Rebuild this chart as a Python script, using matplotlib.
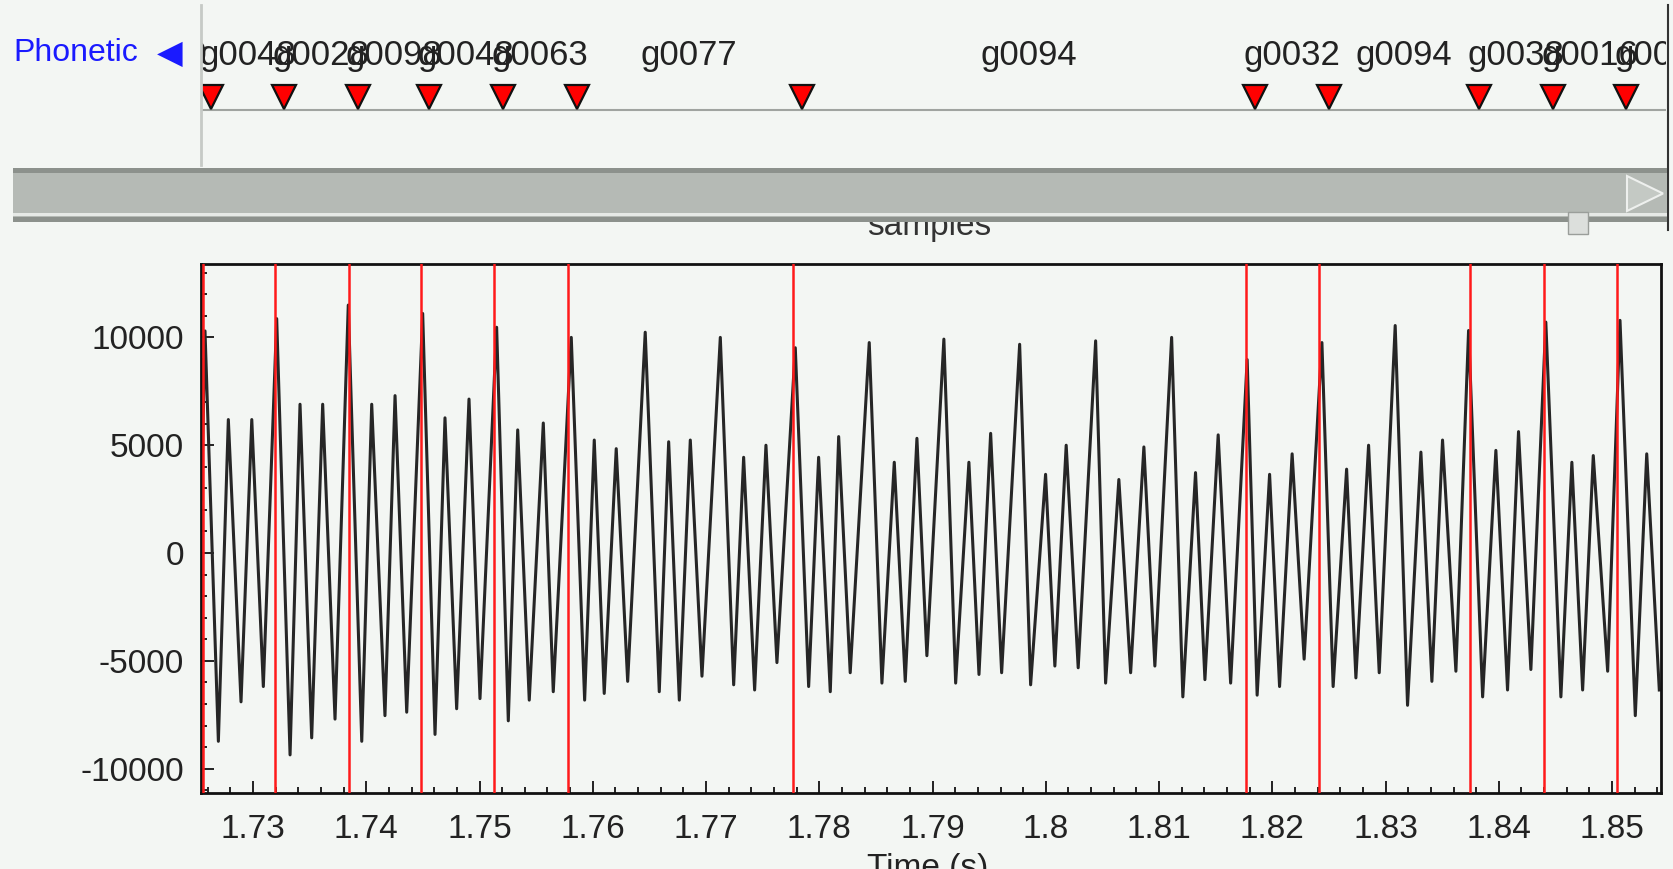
import matplotlib
matplotlib.use("Agg")
import matplotlib.pyplot as plt
from matplotlib.patches import Rectangle, Polygon
from matplotlib.ticker import FixedLocator, MultipleLocator

plt.rcParams['font.family'] = ['Liberation Sans', 'DejaVu Sans']
plt.rcParams['axes.unicode_minus'] = False

# pitch marks (s), shown as red lines in the plot and red triangles on the tier
mark_times = [1.72557, 1.73198, 1.73848, 1.74480, 1.75130, 1.75780,
              1.77769, 1.81765, 1.82416, 1.83745, 1.84395, 1.85045]

# phone labels, one per span; first and last span run past the view
span_edges = [1.7163] + mark_times + [1.8569]
span_labels = ["g0040", "g0048", "g0028", "g0098", "g0048", "g0063", "g0077",
               "g0094", "g0032", "g0094", "g0038", "g0016", "g0094"]

# waveform turning points (time s, amplitude)
wave_t = [1.72545,
          1.72576, 1.72694, 1.72782, 1.72894, 1.72989, 1.73091,
          1.73209, 1.73327, 1.73415, 1.73518, 1.73615, 1.73724,
          1.73841, 1.73960, 1.74048, 1.74165, 1.74254, 1.74357,
          1.74498, 1.74607, 1.74695, 1.74798, 1.74907, 1.75004,
          1.75151, 1.75254, 1.75337, 1.75439, 1.75563, 1.75651,
          1.75810, 1.75928, 1.76013, 1.76101, 1.76207, 1.76308,
          1.76463, 1.76587, 1.76670, 1.76764, 1.76861, 1.76964,
          1.77126, 1.77244, 1.77332, 1.77429, 1.77529, 1.77626,
          1.77788, 1.77906, 1.77994, 1.78097, 1.78171, 1.78273,
          1.78441, 1.78553, 1.78662, 1.78759, 1.78862, 1.78950,
          1.79100, 1.79204, 1.79321, 1.79410, 1.79513, 1.79610,
          1.79769, 1.79866, 1.79998, 1.80080, 1.80180, 1.80286,
          1.80440, 1.80528, 1.80645, 1.80749, 1.80866, 1.80963,
          1.81111, 1.81210, 1.81322, 1.81405, 1.81522, 1.81632,
          1.81778, 1.81866, 1.81976, 1.82064, 1.82175, 1.82281,
          1.82438, 1.82537, 1.82656, 1.82738, 1.82850, 1.82944,
          1.83085, 1.83194, 1.83312, 1.83409, 1.83503, 1.83621,
          1.83733, 1.83857, 1.83974, 1.84077, 1.84174, 1.84283,
          1.84415, 1.84548, 1.84645, 1.84740, 1.84834, 1.84961,
          1.85070, 1.85205, 1.85306, 1.85417]
wave_v = [2500,
          10300, -8730, 6190, -6900, 6190, -6190,
          10870, -9360, 6900, -8570, 6900, -7700,
          11500, -8730, 6900, -7540, 7300, -7380,
          11110, -8410, 6270, -7220, 7140, -6750,
          10470, -7780, 5710, -6820, 6030, -6430,
          10000, -6820, 5240, -6510, 4840, -5950,
          10240, -6430, 5160, -6820, 5240, -5710,
          10000, -6110, 4440, -6350, 5000, -5080,
          9520, -6190, 4440, -6430, 5400, -5550,
          9760, -6030, 4210, -5950, 5320, -4760,
          9920, -6030, 4210, -5630, 5550, -5550,
          9680, -6110, 3650, -5240, 5000, -5320,
          9840, -6030, 3410, -5550, 4920, -5240,
          10000, -6670, 3730, -5870, 5480, -6030,
          8970, -6590, 3650, -6190, 4600, -4920,
          9760, -6190, 3890, -5790, 5000, -5550,
          10550, -7060, 4680, -5950, 5240, -5480,
          10320, -6670, 4760, -6350, 5630, -5400,
          10710, -6670, 4210, -6350, 4520, -5480,
          10790, -7540, 4600, -6350]

x_ticks = [1.73, 1.74, 1.75, 1.76, 1.77, 1.78, 1.79, 1.80, 1.81, 1.82, 1.83, 1.84, 1.85]
x_tick_labels = ["1.73", "1.74", "1.75", "1.76", "1.77", "1.78", "1.79",
                 "1.8", "1.81", "1.82", "1.83", "1.84", "1.85"]
y_ticks = [-10000, -5000, 0, 5000, 10000]

W, H = 1674, 869
BG = '#f3f6f3'
FS = 24

fig = plt.figure(figsize=(W / 100, H / 100), dpi=100, facecolor=BG)


def px_axes(left, top, right, bottom):
    return fig.add_axes([left / W, 1 - bottom / H, (right - left) / W, (bottom - top) / H])


# --- waveform panel ---
ax = px_axes(200.7, 263.7, 1661, 793.2)
ax.set_facecolor(BG)
ax.plot(wave_t, wave_v, color='#262626', lw=2.2, zorder=2)
for t in mark_times:
    ax.axvline(t, color='#ff1a1a', lw=1.8, zorder=3)
ax.set_xlim(1.72538, 1.85432)
ax.set_ylim(-11136, 13417)
ax.xaxis.set_major_locator(FixedLocator(x_ticks))
ax.set_xticklabels(x_tick_labels)
ax.xaxis.set_minor_locator(MultipleLocator(0.002))
ax.yaxis.set_major_locator(FixedLocator(y_ticks))
ax.yaxis.set_minor_locator(MultipleLocator(1000))
ax.tick_params(which='both', direction='in', top=False, right=False, width=1.4,
               colors='#222222', labelsize=FS)
ax.tick_params(which='major', length=9)
ax.tick_params(which='minor', length=4.5)
ax.tick_params(axis='x', pad=15)
ax.tick_params(axis='y', pad=12)
for s in ax.spines.values():
    s.set_linewidth(2)
    s.set_color('#111111')

# --- label tier ---
tier = px_axes(200.7, 5, 1666, 165)
tier.set_facecolor(BG)
tier.set_xlim(1.72463, 1.85394)
tier.set_ylim(165, 5)
tier.axis('off')
tier.axhline(110, color='#a0a4a0', lw=1.5)
tier.plot(mark_times, [97] * len(mark_times), linestyle='None', marker='v',
          markersize=17, markerfacecolor='#ff0000', markeredgecolor='#111111',
          markeredgewidth=1.6, zorder=3)
for (a, b), lab in zip(zip(span_edges[:-1], span_edges[1:]), span_labels):
    tier.text((a + b) / 2, 55, lab, ha='center', va='center', fontsize=FS + 1,
              color='#222222', clip_on=True)

# --- window furniture in pixel coordinates ---
deco = fig.add_axes([0, 0, 1, 1], zorder=5)
deco.set_xlim(0, W)
deco.set_ylim(H, 0)
deco.axis('off')
deco.patch.set_alpha(0)
deco.plot([200.7, 200.7], [5, 165], color='#c6cac6', lw=2)
deco.plot([1668, 1668], [5, 230], color='#333333', lw=1.5)
deco.text(13, 53, 'Phonetic', color='#1a1aff', fontsize=FS - 1, va='center', ha='left')
deco.text(183, 53, '\u25C0', color='#1a1aff', fontsize=FS, va='center', ha='right',
          family='DejaVu Sans')
deco.text(929, 235, 'samples', ha='center', va='baseline', fontsize=FS, color='#333333', zorder=1)
deco.text(928, 853, 'Time (s)', ha='center', va='top', fontsize=FS, color='#222222')
deco.add_patch(Rectangle((13, 168), 1654, 54, facecolor='#b5bab5', edgecolor='none', zorder=2))
deco.add_patch(Rectangle((13, 168), 1654, 5, facecolor='#8c918c', edgecolor='none', zorder=3))
deco.add_patch(Rectangle((13, 213), 1654, 3, facecolor='#e6e9e6', edgecolor='none', zorder=3))
deco.add_patch(Rectangle((13, 217), 1654, 5, facecolor='#8c918c', edgecolor='none', zorder=3))
deco.add_patch(Polygon([[1627, 176], [1627, 211], [1663, 193.5]], closed=True,
                       facecolor='#c4c9c4', edgecolor='#eef0ee', lw=1.5, zorder=4))
deco.add_patch(Rectangle((1568, 212), 20, 22, facecolor='#dcdfdc', edgecolor='#9a9e9a',
                         lw=1, zorder=4))

fig.savefig('out.png', dpi=100, facecolor=BG)
